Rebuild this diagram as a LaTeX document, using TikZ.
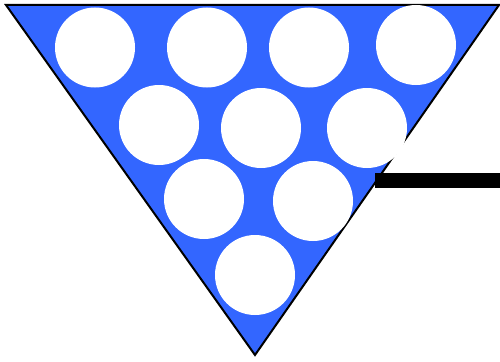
\documentclass[tikz,border=0pt]{standalone}
\definecolor{rackblue}{RGB}{51,102,255}
\begin{document}
\begin{tikzpicture}[x=1pt,y=-1pt,
  rack/.style={fill=rackblue,draw=black,line width=2pt,line join=miter},
  ball/.style={fill=white,draw=none},
  handle/.style={fill=black,draw=none}]
\useasboundingbox (0,0) rectangle (500,361);
\draw[rack] (6,5) -- (499,5) -- (255,355) -- cycle;
\foreach \x/\y in {95/47.5,207/47.5,309/47.5,416/45,159/125,261/128,367/128,204/199,313/201,255/275}
  \fill[ball] (\x,\y) circle (40);
\fill[handle] (375,173) rectangle (500,188);
\end{tikzpicture}
\end{document}
